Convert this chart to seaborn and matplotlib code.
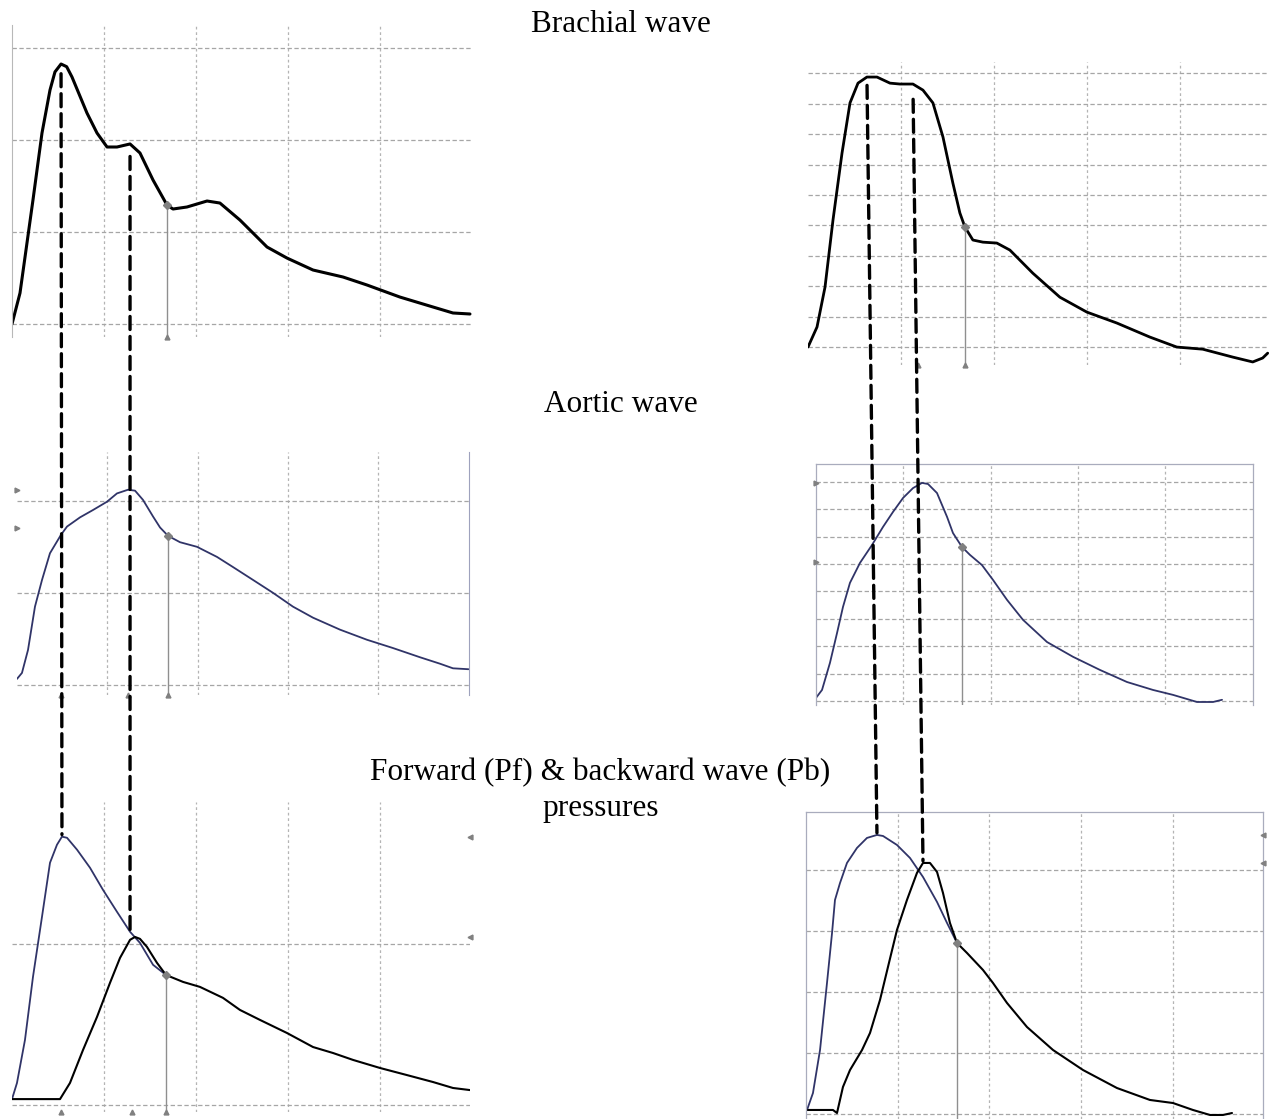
import numpy as np
import matplotlib
matplotlib.use("Agg")
import matplotlib.pyplot as plt
from matplotlib.patches import ConnectionPatch
import seaborn as sns

# ---------------------------------------------------------------
# Pulse wave traces: time in ms from foot of the wave,
# pressure in mmHg above end-diastolic level.
# ---------------------------------------------------------------

# Brachial wave, subject A
brach_a_t = [0, 8.7, 22.8, 32.6, 41.3, 46.7, 53.3, 59.4, 65.2, 81.5, 92.4, 103.3, 114.1,
             128.3, 139.1, 153.3, 168.5, 175, 190.2, 212, 226, 247.8, 277.2, 298.9,
             327.2, 359.8, 385.9, 421.7, 457.6, 479.3, 497.8]
brach_a_p = [0, 3.37, 13.48, 20.76, 25.43, 27.4, 28.26, 27.97, 26.85, 22.93, 20.76, 19.24,
             19.24, 19.57, 18.59, 15.65, 12.93, 12.5, 12.72, 13.37, 13.15, 11.3, 8.37,
             7.17, 5.87, 5.11, 4.24, 2.93, 1.85, 1.2, 1.09]
brach_a_notch = 168.5
brach_a_late = 128.3

# Brachial wave, subject B
brach_b_t = [0, 9.7, 18.3, 26.9, 36.6, 45.2, 53.8, 63.4, 74.2, 88.2, 98.9, 112.9, 123.7,
             134.4, 145.2, 155.9, 163.4, 168.8, 177.4, 188.2, 203.2, 217.2, 241.9, 271,
             300, 332.3, 367.7, 396.8, 424.7, 457, 478.5, 489.2, 494.6]
brach_b_p = [0, 6.6, 19.7, 41.8, 63.8, 80.3, 86.8, 88.8, 88.8, 86.8, 86.5, 86.5, 84.5,
             80.3, 69.1, 53.9, 44.1, 39.5, 35.2, 34.5, 34.2, 31.9, 24.3, 16.4, 11.5, 7.9,
             3.3, 0, -0.7, -3.3, -4.9, -3.6, -2.0]
brach_b_notch = 168.8
brach_b_late = 112.9

# Aortic wave, subject A
aort_a_t = [0, 5.5, 12.2, 19.9, 27.7, 36.5, 48.7, 55.4, 69.8, 84.2, 99.7, 110.7, 122.9,
            130.7, 139.5, 150.6, 158.4, 167.2, 180.5, 199.3, 221.5, 239.2, 261.4, 283.5,
            305.6, 327.8, 357.7, 387.6, 416.4, 446.3, 468.4, 482.8, 500.0]
aort_a_p = [0.65, 1.3, 3.8, 8.5, 11.4, 14.3, 16.3, 17.2, 18.2, 19.0, 19.9, 20.8, 21.2,
            21.1, 20.1, 18.3, 17.1, 16.2, 15.5, 15.0, 13.9, 12.8, 11.4, 10.0, 8.5, 7.3,
            6.0, 4.9, 4.0, 3.0, 2.3, 1.8, 1.7]
aort_a_notch = 167.2
aort_a_marks = [21.2, 17.0]

# Aortic wave, subject B
aort_b_t = [0, 6.9, 16.0, 24.1, 30.9, 38.9, 50.4, 64.1, 76.7, 88.2, 99.7, 111.1, 121.4,
            128.3, 138.6, 150.1, 156.9, 167.2, 176.4, 190.1, 202.7, 218.8, 237.1, 264.6,
            294.4, 325.3, 356.2, 386.0, 408.9, 436.4, 454.8, 465.1]
aort_b_p = [1.1, 4.0, 13.9, 24.8, 34.3, 43.1, 50.4, 56.9, 63.5, 69.0, 74.1, 77.7, 79.6,
            79.2, 75.9, 67.2, 61.3, 56.2, 53.3, 49.6, 44.2, 36.9, 29.6, 21.5, 16.1, 11.3,
            6.9, 4.0, 2.2, -0.4, -0.4, 0.4]
aort_b_notch = 167.2
aort_b_marks = [79.6, 50.7]

# Forward (Pf) and backward (Pb) pressure waves, subject A
pf_a_t = [0, 5.4, 14.1, 22.8, 32.6, 41.3, 48.9, 54.3, 59.8, 70.7, 84.8, 98.9, 114.1,
          128.3, 139.1, 153.3, 167.4]
pf_a_p = [0.37, 1.37, 4.04, 7.95, 11.68, 15.03, 16.15, 16.65, 16.58, 15.84, 14.72, 13.35,
          11.99, 10.75, 10.06, 8.70, 8.07]
pb_a_t = [0, 52.2, 63.0, 77.2, 92.4, 106.5, 117.4, 128.3, 133.7, 139.1, 146.7, 157.6,
          167.4, 185.9, 204.3, 229.3, 247.8, 269.6, 298.9, 327.2, 348.9, 370.7, 400.0,
          429.3, 457.6, 479.3, 497.8]
pb_a_p = [0.37, 0.37, 1.37, 3.42, 5.47, 7.58, 9.13, 10.25, 10.43, 10.31, 9.81, 8.82,
          8.07, 7.64, 7.33, 6.65, 5.90, 5.28, 4.47, 3.60, 3.23, 2.80, 2.30, 1.86, 1.43,
          1.06, 0.93]
sep_a_notch = 167.4
sep_a_cross = 128.3

# Forward (Pf) and backward (Pb) pressure waves, subject B
pf_b_t = [1.1, 7.6, 15.3, 22.9, 28.4, 31.6, 37.1, 44.7, 55.6, 66.5, 77.4, 84.0, 99.2,
          113.4, 127.6, 142.9, 153.8, 164.7]
pf_b_p = [0.66, 3.44, 10.49, 21.48, 29.67, 35.08, 37.87, 41.15, 43.61, 45.25, 45.74,
          45.57, 44.10, 41.97, 38.85, 34.75, 31.31, 28.03]
pb_b_t = [1.1, 29.4, 33.8, 40.3, 48.0, 61.1, 69.8, 80.7, 89.4, 99.2, 110.1, 121.0, 127.6,
          135.2, 142.9, 149.4, 157.0, 164.7, 175.6, 193.0, 203.9, 219.2, 241.0, 269.4,
          302.1, 339.1, 375.1, 400.2, 422.0, 440.6, 454.7, 464.6]
pb_b_p = [0.66, 0.66, 0.16, 4.43, 7.21, 10.49, 13.28, 18.69, 24.10, 30.16, 35.08, 39.51,
          41.15, 41.15, 39.67, 36.23, 31.31, 28.03, 26.39, 23.61, 21.48, 18.20, 14.26,
          10.49, 7.21, 4.26, 2.30, 1.80, 0.66, -0.16, -0.16, 0.16]
sep_b_notch = 164.7

titles = ["Brachial wave", "Aortic wave", "Forward (Pf) & backward wave (Pb)", "pressures"]

# ---------------------------------------------------------------
sns.set_style("white")
plt.rcParams["font.family"] = ["Liberation Serif", "DejaVu Serif"]

W, H = 1270, 1119
fig = plt.figure(figsize=(W / 100, H / 100), dpi=100)

NAVY = "#303468"
GRID_H = "#a6a6a6"
GRID_V = "#b4b4b4"
MARK = "#808080"


def add_panel(box, xlim, ylim, yticks):
    left, top, right, bottom = box
    ax = fig.add_axes([left / W, 1 - bottom / H, (right - left) / W, (bottom - top) / H])
    ax.set_xlim(*xlim)
    ax.set_ylim(*ylim)
    ax.set_xticks([100, 200, 300, 400])
    ax.set_yticks(yticks)
    ax.tick_params(length=0, labelbottom=False, labelleft=False)
    ax.xaxis.grid(True, color=GRID_V, ls=(0, (2.2, 2.2)), lw=0.9)
    ax.yaxis.grid(True, color=GRID_H, ls=(0, (3.5, 2.0)), lw=0.9)
    ax.set_axisbelow(True)
    for s in ax.spines.values():
        s.set_visible(False)
    ax.patch.set_alpha(0)
    return ax


def trace(ax, t, p, color, lw):
    sns.lineplot(x=t, y=p, ax=ax, color=color, linewidth=lw, sort=False,
                 estimator=None, legend=False)
    ax.lines[-1].set_solid_joinstyle("round")
    ax.lines[-1].set_solid_capstyle("round")


def value_at(t, p, when):
    return p[int(np.argmin(np.abs(np.asarray(t) - when)))]


def notch_marker(ax, t, p, when):
    v = value_at(t, p, when)
    y0 = ax.get_ylim()[0]
    ax.vlines(when, y0, v, color="#8f8f8f", lw=1.0, zorder=3)
    ax.plot([when], [v], marker="D", ms=4, color=MARK, zorder=4)


def foot_ticks(ax, times):
    y0 = ax.get_ylim()[0]
    ax.plot(times, [y0] * len(times), ls="none", marker="^", ms=3.5, color=MARK,
            clip_on=False, zorder=4)


def edge_ticks(ax, values, side):
    x = ax.get_xlim()[0] if side == "left" else ax.get_xlim()[1]
    ax.plot([x] * len(values), values, ls="none", marker=">" if side == "left" else "<",
            ms=3.5, color=MARK, clip_on=False, zorder=4)


# Panels
ax1 = add_panel((12, 25, 472, 337), (0, 500), (-1.41, 32.5), [0, 10, 20, 30])
ax2 = add_panel((808, 62, 1269, 365), (0, 496), (-5.9, 93.75), list(range(0, 100, 10)))
ax3 = add_panel((17, 452, 468.5, 695), (0, 500), (-1.1, 25.3), [0, 10, 20])
ax4 = add_panel((816, 464, 1252.5, 705), (0, 500), (-1.5, 86.5), list(range(0, 90, 10)))
ax5 = add_panel((12, 802, 470, 1112), (0, 497.8), (-0.43, 18.8), [0, 10])
ax6 = add_panel((806, 812, 1263, 1119), (0, 498.4), (-0.82, 49.5), [0, 10, 20, 30, 40])

# Frames
ax1.spines["left"].set_visible(True)
ax1.spines["left"].set_color("#b8b8b8")
ax3.spines["right"].set_visible(True)
ax3.spines["right"].set_color("#9ea2bd")
for ax in (ax4, ax6):
    for side in ("left", "top", "right"):
        ax.spines[side].set_visible(True)
        ax.spines[side].set_color("#a9acbd")
        ax.spines[side].set_linewidth(0.9)

# Brachial
trace(ax1, brach_a_t, brach_a_p, "black", 2.2)
notch_marker(ax1, brach_a_t, brach_a_p, brach_a_notch)
foot_ticks(ax1, [brach_a_notch])

trace(ax2, brach_b_t, brach_b_p, "black", 2.0)
notch_marker(ax2, brach_b_t, brach_b_p, brach_b_notch)
foot_ticks(ax2, [118, brach_b_notch])

# Aortic
trace(ax3, aort_a_t, aort_a_p, NAVY, 1.3)
notch_marker(ax3, aort_a_t, aort_a_p, aort_a_notch)
edge_ticks(ax3, aort_a_marks, "left")
foot_ticks(ax3, [48.7, 122.9, aort_a_notch])

trace(ax4, aort_b_t, aort_b_p, NAVY, 1.3)
notch_marker(ax4, aort_b_t, aort_b_p, aort_b_notch)
edge_ticks(ax4, aort_b_marks, "left")

# Wave separation
trace(ax5, pf_a_t, pf_a_p, NAVY, 1.3)
trace(ax5, pb_a_t, pb_a_p, "black", 1.5)
notch_marker(ax5, pb_a_t, pb_a_p, sep_a_notch)
edge_ticks(ax5, [max(pf_a_p), max(pb_a_p)], "right")
foot_ticks(ax5, [53.3, 130.4, sep_a_notch])

trace(ax6, pf_b_t, pf_b_p, NAVY, 1.3)
trace(ax6, pb_b_t, pb_b_p, "black", 1.5)
notch_marker(ax6, pb_b_t, pb_b_p, sep_b_notch)
edge_ticks(ax6, [max(pf_b_p), max(pb_b_p)], "right")


# Dashed guides linking peaks across the recordings
def link(axA, ptA, axB, ptB, shrink_a):
    cp = ConnectionPatch(xyA=ptA, coordsA=axA.transData, xyB=ptB, coordsB=axB.transData,
                         color="black", lw=2.4, linestyle=(0, (3.9, 2.1)),
                         shrinkA=shrink_a, shrinkB=1.5, zorder=10)
    fig.add_artist(cp)


ia = int(np.argmax(brach_a_p))
ja = int(np.argmax(pf_a_p))
link(ax1, (brach_a_t[ia], brach_a_p[ia]), ax5, (pf_a_t[ja], pf_a_p[ja]), 7)
link(ax1, (brach_a_late, value_at(brach_a_t, brach_a_p, brach_a_late)),
     ax5, (sep_a_cross, value_at(pf_a_t, pf_a_p, sep_a_cross)), 9)

ib = int(np.argmax(brach_b_p))
jb = int(np.argmax(pf_b_p))
kb = int(np.argmax(pb_b_p))
link(ax2, (brach_b_t[ib], brach_b_p[ib]), ax6, (pf_b_t[jb], pf_b_p[jb]), 6)
link(ax2, (brach_b_late, value_at(brach_b_t, brach_b_p, brach_b_late)),
     ax6, (pb_b_t[kb], pb_b_p[kb]), 11)

# Headings
for text, x, y in zip(titles, [621, 621, 600, 601], [32, 412, 780, 816]):
    fig.text(x / W, 1 - y / H, text, ha="center", va="baseline", fontsize=22.5,
             color="black")

fig.savefig("out.png", dpi=100)
